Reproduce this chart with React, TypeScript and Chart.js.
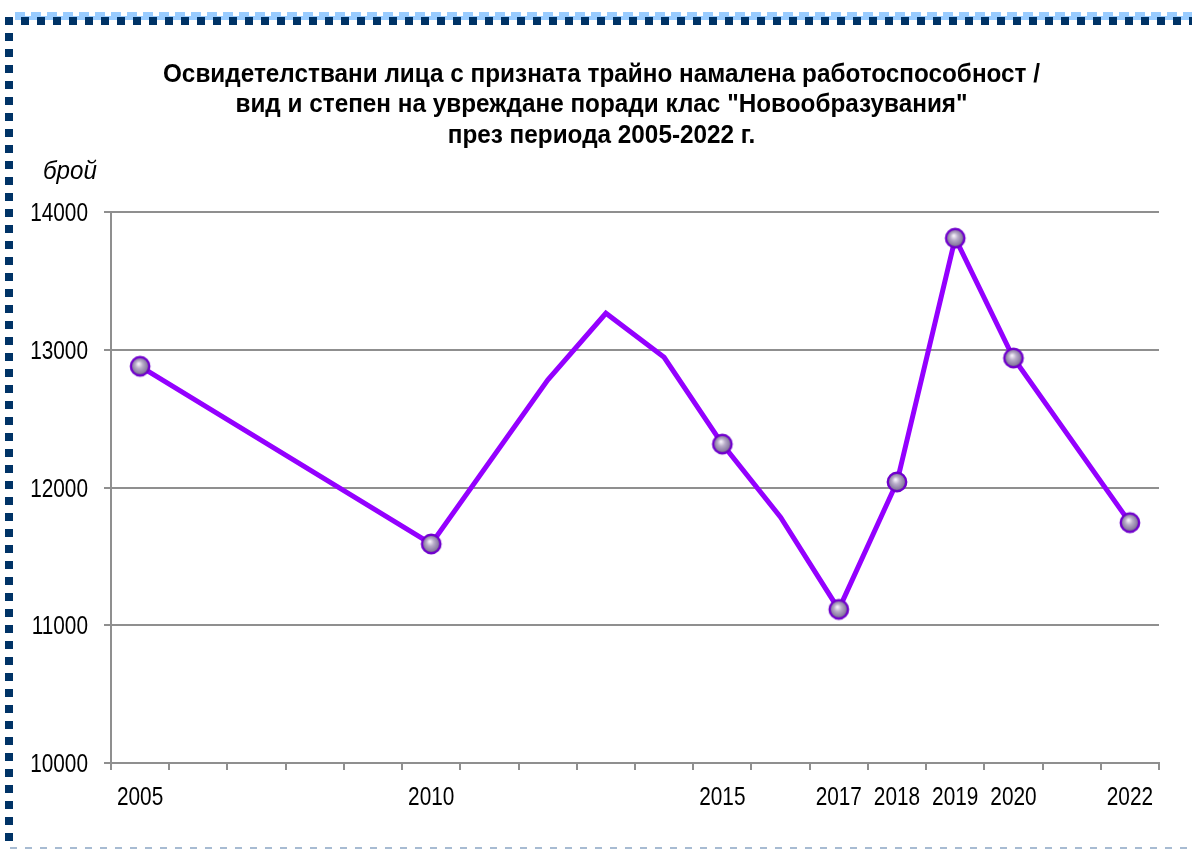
import React, { useEffect, useRef } from "react";
import { Chart, registerables } from "chart.js";

Chart.register(...registerables);

const years = ["2005","2006","2007","2008","2009","2010","2011","2012","2013","2014","2015","2016","2017","2018","2019","2020","2021","2022"];
const shownYears = ["2005","2010","2015","2017","2018","2019","2020","2022"];
const values: (number | null)[] = [12880, null, null, null, null, 11590, null, 12780, 13265, 12945, 12315, 11785, 11115, 12040, 13810, 12940, null, 11745];
const yTicks = [10000, 11000, 12000, 13000, 14000];
const titleLines = [
  "Освидетелствани лица с призната трайно намалена работоспособност /",
  "вид и степен на увреждане поради клас \"Новообразувания\"",
  "през периода 2005-2022 г.",
];
const yAxisLabel = "брой";

const FONT = "'Liberation Sans', Arial, sans-serif";

function makeMarker(): HTMLCanvasElement {
  const c = document.createElement("canvas");
  c.width = 24;
  c.height = 24;
  const ctx = c.getContext("2d")!;
  const g = ctx.createRadialGradient(10.5, 9.5, 0.5, 12, 12, 10);
  g.addColorStop(0, "#F6F2FA");
  g.addColorStop(0.35, "#B8ACC8");
  g.addColorStop(0.75, "#8A7BA2");
  g.addColorStop(1, "#4A3A66");
  ctx.beginPath();
  ctx.arc(12, 12, 9.2, 0, Math.PI * 2);
  ctx.fillStyle = g;
  ctx.fill();
  ctx.lineWidth = 2.4;
  ctx.strokeStyle = "#7000CC";
  ctx.stroke();
  return c;
}

function drawScaled(ctx: CanvasRenderingContext2D, text: string, x: number, y: number, sx: number) {
  ctx.save();
  ctx.translate(x, y);
  ctx.scale(sx, 1);
  ctx.fillText(text, 0, 0);
  ctx.restore();
}

const framePlugin = {
  id: "frame",
  beforeDraw(chart: any) {
    const ctx = chart.ctx as CanvasRenderingContext2D;
    const W = chart.width;
    ctx.save();
    ctx.fillStyle = "#ffffff";
    ctx.fillRect(0, 0, W, chart.height);
    ctx.fillStyle = "#99CCFF";
    ctx.fillRect(15, 16, W - 15, 4);
    for (let x = 15; x < W; x += 16) ctx.fillRect(x, 12, 10, 5);
    ctx.fillStyle = "#003366";
    for (let x = 5; x < W; x += 16) ctx.fillRect(x, 17, 8, 8);
    for (let y = 33; y <= 835; y += 16) ctx.fillRect(5, y, 8, 8);
    ctx.fillStyle = "#A7BBD2";
    for (let x = 10; x < W; x += 15) ctx.fillRect(x, 847, 7, 2);
    ctx.restore();
  },
  afterDraw(chart: any) {
    const ctx = chart.ctx as CanvasRenderingContext2D;
    const xs = chart.scales.x;
    const ys = chart.scales.y;
    ctx.save();
    ctx.fillStyle = "#000000";
    ctx.textBaseline = "alphabetic";
    // title
    ctx.font = `bold 26px ${FONT}`;
    ctx.textAlign = "center";
    const cx = 601.5;
    titleLines.forEach((line, i) => drawScaled(ctx, line, cx, 81.5 + i * 30.7, 0.935));
    // y axis label
    ctx.font = `italic 26px ${FONT}`;
    ctx.textAlign = "left";
    drawScaled(ctx, yAxisLabel, 43, 179, 0.93);
    // y ticks
    ctx.font = `26px ${FONT}`;
    ctx.textAlign = "right";
    yTicks.forEach((v) => drawScaled(ctx, String(v), 88, ys.getPixelForValue(v) + 9, 0.8));
    // x ticks
    ctx.textAlign = "center";
    years.forEach((y, i) => {
      if (shownYears.includes(y)) drawScaled(ctx, y, xs.getPixelForValue(i), xs.bottom - 86 + 42 + 0, 0.8);
    });
    ctx.restore();
  },
};

export default function App() {
  const ref = useRef<HTMLCanvasElement | null>(null);
  useEffect(() => {
    const canvas = ref.current!;
    const marker = makeMarker();
    const pointStyles = years.map((y) => (shownYears.includes(y) ? marker : "circle"));
    const pointRadii = years.map((y) => (shownYears.includes(y) ? 10 : 0));
    const chart = new Chart(canvas, {
      type: "line",
      data: {
        labels: years,
        datasets: [
          {
            data: values,
            borderColor: "#9400FF",
            borderWidth: 5,
            tension: 0,
            spanGaps: true,
            pointStyle: pointStyles as any,
            pointRadius: pointRadii,
            pointHoverRadius: pointRadii,
            borderJoinStyle: "miter",
          },
        ],
      },
      options: {
        responsive: false,
        animation: false,
        devicePixelRatio: 1,
        layout: { padding: { left: 0, right: 33, top: 212, bottom: 0 } },
        plugins: {
          legend: { display: false },
          tooltip: { enabled: false },
          title: { display: false },
        },
        scales: {
          x: {
            type: "category",
            offset: true,
            grid: {
              offset: true,
              drawOnChartArea: false,
              drawTicks: true,
              tickLength: 7,
              color: "#8f8f8f",
              lineWidth: 2,
            },
            border: { display: true, color: "#8f8f8f", width: 2 },
            ticks: { display: false, autoSkip: false, maxRotation: 0 },
            afterFit: (scale: any) => {
              scale.height = 86;
            },
          },
          y: {
            min: 10000,
            max: 14000,
            ticks: { display: false, stepSize: 1000 },
            grid: {
              color: "#8f8f8f",
              lineWidth: 2,
              drawTicks: true,
              tickLength: 7,
            },
            border: { display: true, color: "#8f8f8f", width: 2 },
            afterFit: (scale: any) => {
              scale.width = 111;
            },
          },
        },
      },
      plugins: [framePlugin],
    });
    return () => chart.destroy();
  }, []);
  return (
    <div style={{ position: "absolute", left: 0, top: 0, width: 1192, height: 849 }}>
      <canvas ref={ref} width={1192} height={849} style={{ display: "block" }} />
    </div>
  );
}
